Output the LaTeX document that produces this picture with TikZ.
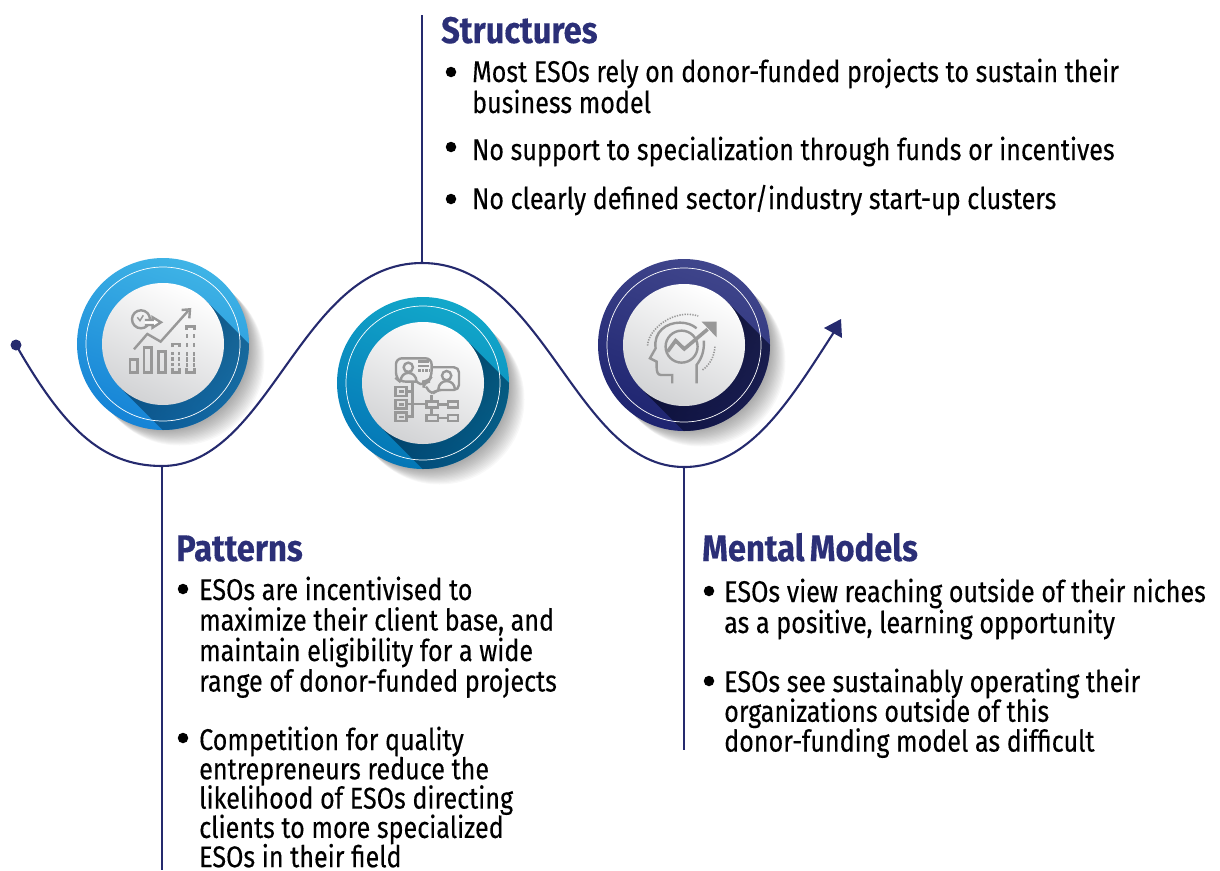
\documentclass[tikz,border=0pt]{standalone}
\usepackage{fontspec}
\setmainfont[FakeStretch=0.837,FakeBold=0.25]{Fira Sans}
\newfontfamily\headfont[FakeStretch=0.885,FakeBold=0.3]{Fira Sans Bold}
\usetikzlibrary{fadings}
\definecolor{navy}{HTML}{252A6E}
\definecolor{headc}{HTML}{2B2F77}
\definecolor{icong}{HTML}{989898}
\definecolor{discmid}{HTML}{F5F5F6}
\definecolor{discend}{HTML}{D2D3D5}
\definecolor{aT}{HTML}{3FB4E6}\definecolor{aB}{HTML}{1583D6}\definecolor{aD}{HTML}{0A4A78}
\definecolor{bT}{HTML}{12A8CA}\definecolor{bB}{HTML}{0476B6}\definecolor{bD}{HTML}{023A5E}
\definecolor{cT}{HTML}{40468C}\definecolor{cB}{HTML}{1E2470}\definecolor{cD}{HTML}{0B0E30}
\tikzfading[name=bandfade, top color=transparent!0, bottom color=transparent!62]
\tikzset{
  wave/.style={draw=navy,line width=2.1pt},
  stem/.style={draw=navy,line width=2.5pt},
  heading/.style={anchor=base west,inner sep=0pt,text=headc,font=\fontsize{37}{37}\headfont},
  body/.style={anchor=base west,inner sep=0pt,text=black,font=\fontsize{30}{30}\selectfont},
  bulletdot/.style={circle,fill=black,minimum size=10.5pt,inner sep=0pt},
  icn/.style={draw=icong,line width=2.4pt,line join=miter},
  disc/.style={circle,inner sep=0pt,minimum size=122pt,top color=white,middle color=discmid,bottom color=discend,shading angle=-25},
}
\newcommand{\medal}[6]{%
  \foreach \d in {2,4,...,30}{
    \fill[black,opacity=0.028] (#2+\d*0.55,#3+\d*0.55) circle[radius=85];
  }
  \shade[top color=#4,bottom color=#5,shading angle=-20] (#2,#3) circle[radius=86];
  \begin{scope}
    \clip (#2,#3) circle[radius=86];
    \fill[#6,path fading=bandfade,fading angle=45]
      (#2+43.1,#3-43.1) -- (#2+43.1+75,#3-43.1+75) -- (#2-43.1+75,#3+43.1+75) -- (#2-43.1,#3+43.1) -- cycle;
  \end{scope}
  \draw[white,line width=0.7pt] (#2,#3) circle[radius=77];
  \node[disc] (#1) at (#2,#3) {};
}
% lines of a text block: first line on the node's baseline, fixed line distance
\newcommand{\lns}[2]{\vtop{\baselineskip=#1pt\lineskiplimit=-100pt\lineskip=0pt #2}}
\begin{document}
\begin{tikzpicture}[x=1pt,y=-1pt]
\useasboundingbox (0,0) rectangle (1220,870);

% wave anchors
\node[circle,fill=navy,minimum size=11pt,inner sep=0pt] (start) at (16,345) {};
\coordinate (low1) at (162,466);
\coordinate (top) at (422,263);
\coordinate (low2) at (684,467);
\coordinate (tipend) at (834,332);
\coordinate (stemA) at (422,15);
\coordinate (stemB) at (162,870);
\coordinate (stemC) at (684,750);

% medallions
\medal{m1}{163}{344}{aT}{aB}{aD}
\medal{m2}{423}{383}{bT}{bB}{bD}
\medal{m3}{684}{345}{cT}{cB}{cD}

% wave
\draw[wave] (start.center) .. controls (62,425) and (100,466) .. (low1)
  .. controls (270,466) and (300,263) .. (top)
  .. controls (545,263) and (575,467) .. (low2)
  .. controls (750,467) and (790,400) .. (tipend);
\fill[navy] (824,328) -- (841,319) -- (842,338) -- cycle;
\draw[stem] (stemA) -- (top);
\draw[stem] (low1) -- (stemB);
\draw[stem] (low2) -- (stemC);

% ICON 1
\begin{scope}[x=0.3333pt,y=-0.3333pt,shift={(180,780)}]
  \draw[icn] (243,178) circle[radius=27];
  \draw[icn,line width=1.5pt] (232,172) -- (240,182) -- (250,166);
  \draw[icn,fill=white] (255,180) -- (278,180) -- (278,172) -- (303,187) -- (278,203) -- (278,195) -- (255,195);
  \draw[icn] (222,268) -- (262,222) -- (302,245) -- (385,152);
  \draw[icn] (365,150) -- (390,148) -- (388,175);
  \draw[icn] (210,298) rectangle (232,338);
  \draw[icn] (252,262) rectangle (275,338);
  \draw[icn] (295,275) rectangle (317,338);
  \draw[icn] (337,262) |- (358,252) -- (358,262);
  \draw[icn] (337,325) |- (358,338) -- (358,325);
  \draw[icn] (380,210) |- (403,200) -- (403,210);
  \draw[icn] (380,325) |- (403,338) -- (403,325);
  \foreach \yy in {275,292,309}{
    \fill[icong] (334,\yy) rectangle +(7,10);
    \fill[icong] (354,\yy) rectangle +(7,10);
  }
  \foreach \yy in {222,248,275,292,309}{
    \fill[icong] (377,\yy) rectangle +(7,13);
    \fill[icong] (399,\yy) rectangle +(7,13);
  }
\end{scope}

% ICON 2
\begin{scope}[x=0.3333pt,y=-0.3333pt,shift={(960,840)}]
  \draw[icn,rounded corners=6pt] (290,305) -- (240,305) -- (228,295) -- (228,235) -- (335,235) -- (335,290) -- (325,305) -- (312,305) -- (311,320) -- (290,305);
  \draw[icn,rounded corners=5pt] (335,262) -- (417,262) -- (417,330) -- (350,330) -- (335,345) -- (318,320);
  \draw[icn] (265,262) circle[radius=14];
  \draw[icn] (242,305) .. controls (242,270) and (288,270) .. (290,305);
  \draw[icn] (380,287) circle[radius=14];
  \draw[icn] (355,328) .. controls (357,295) and (403,295) .. (405,328);
  \draw[icn] (295,245) -- (328,245);
  \draw[icn] (295,258) -- (328,258);
  \draw[icn,dash pattern=on 2.5pt off 1pt] (295,272) -- (328,272);
  \draw[icn] (335,345) -- (335,365);
  \draw[icn] (320,365) rectangle (355,383);
  \draw[icn] (385,365) rectangle (415,383);
  \draw[icn] (320,405) rectangle (355,423);
  \draw[icn] (385,405) rectangle (415,423);
  \draw[icn] (355,374) -- (385,374);
  \draw[icn] (355,414) -- (385,414);
  \draw[icn] (335,383) -- (335,405);
  \foreach \yy in {322,360,398}{
    \draw[icn] (227,\yy) rectangle +(33,26);
    \fill[icong] (237,\yy+9) rectangle +(14,8);
  }
  \draw[icn] (260,335) -- (278,335);
  \draw[icn] (278,310) -- (278,410) -- (260,410);
  \draw[icn] (260,373) -- (320,373);
\end{scope}

% ICON 3
\begin{scope}[x=0.3333pt,y=-0.3333pt,shift={(1755,750)}]
  \draw[icn] (262,400) -- (262,375) -- (228,375) .. controls (218,375) and (215,365) .. (215,350) -- (215,335) -- (195,325) -- (212,295)
     .. controls (205,245) and (245,218) .. (285,218) .. controls (305,218) and (322,224) .. (335,235);
  \draw[icn] (357,272) .. controls (358,305) and (350,325) .. (335,345) -- (335,400);
  \draw[icn] (290,290) circle[radius=48];
  \draw[icong,line width=3.6pt,line join=miter] (248,305) -- (272,272) -- (298,297) -- (368,238);
  \fill[icong] (350,215) -- (395,215) -- (395,262) -- cycle;
  \draw[icn,line width=1.6pt,dash pattern=on 1.3pt off 1.3pt] (188,287) .. controls (190,235) and (270,175) .. (340,198);
  \draw[icn,line width=1.6pt,dash pattern=on 1.3pt off 1.3pt] (390,290) .. controls (388,320) and (375,345) .. (350,362);
\end{scope}

% STRUCTURES
\node[heading] (hs) at (441,43) {Structures};
\node[bulletdot] (bs1) at (451,72) {};
\node[body] (ts1) at (472,82) {\lns{31}{\hbox{Most ESOs rely on donor-funded projects to sustain their}\hbox{business model}}};
\node[bulletdot] (bs2) at (451,147) {};
\node[body] (ts2) at (472,160) {No support to specialization through funds or incentives};
\node[bulletdot] (bs3) at (451,199) {};
\node[body] (ts3) at (472,209) {No clearly defined sector/industry start-up clusters};

% PATTERNS
\node[heading] (hp) at (176,561) {Patterns};
\node[bulletdot] (bp1) at (183,589) {};
\node[body] (tp1) at (199,600) {\lns{30.5}{\hbox{ESOs are incentivised to}\hbox{maximize their client base, and}\hbox{maintain eligibility for a wide}\hbox{range of donor-funded projects}}};
\node[bulletdot] (bp2) at (183,738) {};
\node[body] (tp2) at (199,750) {\lns{29.3}{\hbox{Competition for quality}\hbox{entrepreneurs reduce the}\hbox{likelihood of ESOs directing}\hbox{clients to more specialized}\hbox{ESOs in their field}}};

% MENTAL MODELS
\node[heading] (hm) at (702,561) {Mental\hspace{-2.5pt} Models};
\node[bulletdot] (bm1) at (709,591) {};
\node[body] (tm1) at (724,602) {\lns{31}{\hbox{ESOs view reaching outside of their niches}\hbox{as a positive, learning opportunity}}};
\node[bulletdot] (bm2) at (709,681) {};
\node[body] (tm2) at (724,692) {\lns{29.8}{\hbox{ESOs see sustainably operating their}\hbox{organizations outside of this}\hbox{donor-funding model as difficult}}};
\end{tikzpicture}
\end{document}
